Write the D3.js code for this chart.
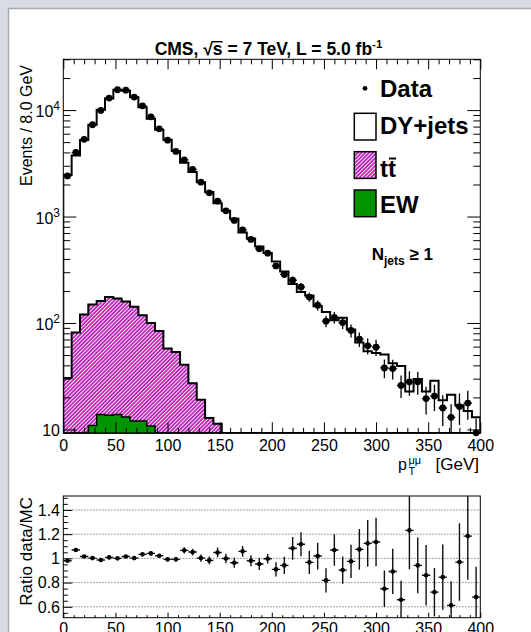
<!DOCTYPE html>
<html>
<head>
<meta charset="utf-8">
<script src="https://cdn.jsdelivr.net/npm/d3@7"></script>
<style>
  html, body { margin: 0; padding: 0; background: #fff; }
  svg { display: block; }
  text { font-family: "Liberation Sans", Arial, Helvetica, sans-serif; fill: #000; }
</style>
</head>
<body>
<svg id="chart" width="531" height="632"></svg>
<script>
// ---- binning: dimuon pT, 8 GeV bins from 0 to 400 GeV ----
const binWidth = 8;
const ptLow = d3.range(0, 400, binWidth);

// ---- simulated contributions (events / bin) ----
const dyJets = [2430, 3660, 5110, 7120, 9910, 12690, 15350, 15000, 13080, 10500,
                8210, 6450, 5200, 4070, 3160, 2600, 2080, 1690, 1320, 1133,
                953, 709, 622, 522, 454, 378, 304, 233, 195, 181,
                144, 127, 106, 112, 87, 65.6, 54.3, 52.2, 50.5, 41.8,
                39.4, 22.7, 29.7, 22.7, 28.6, 18.8, 21.2, 16.9, 14.9, 13.0];
const ttbar  = [30.5, 81.5, 120, 138, 147, 162, 156, 146, 130, 106,
                89, 84, 57.5, 53.5, 40.5, 27.2, 19, 12.8, 11.3, 0,
                0, 0, 0, 0, 0, 0, 0, 0, 0, 0,
                0, 0, 0, 0, 0, 0, 0, 0, 0, 0,
                0, 0, 0, 0, 0, 0, 0, 0, 0, 0];
const ewk    = [0, 0, 0, 10.9, 13.8, 13.6, 13.8, 13.1, 12.0, 12.0,
                10.8, 0, 0, 0, 0, 0, 0, 0, 0, 0,
                0, 0, 0, 0, 0, 0, 0, 0, 0, 0,
                0, 0, 0, 0, 0, 0, 0, 0, 0, 0,
                0, 0, 0, 0, 0, 0, 0, 0, 0, 0];

// ---- observed data ----
const dataCounts = [2410, 4000, 5310, 7280, 9930, 12970, 15520, 15400, 13250, 10970,
                    8650, 6670, 5220, 4090, 3410, 2770, 2105, 1670, 1397, 1132,
                    919, 750, 610, 497, 453, 344, 286, 252, 218, 175,
                    147, 104, 113, 101, 85, 70.5, 61, 59.3, 37.8, 37.3,
                    25.9, 28, 28, 19.5, 20.6, 15.9, 13, 16.4, 17.7, 9.3];
const dataErr    = [30, 45, 52, 73, 100, 129, 155, 152, 132, 106,
                    125, 98, 95, 82, 80, 74, 63, 54, 53, 45,
                    40, 32, 28, 26, 18, 22, 22, 22, 19, 17,
                    16, 13, 14, 13, 12, 11, 10.5, 10.4, 7.6, 7.8,
                    6.2, 7.3, 6.8, 5.7, 5.7, 5.1, 4.2, 5.4, 5.4, 3.4];

// ---- data / MC ratio ----
const ratioVals = [0.98, 1.069, 1.016, 1.002, 0.986, 1.008, 1.0, 1.016, 1.002, 1.033,
                   1.041, 1.022, 0.992, 0.992, 1.066, 1.052, 1.002, 0.983, 1.049, 0.999,
                   0.964, 1.058, 0.98, 0.953, 0.997, 0.909, 0.942, 1.083, 1.116, 0.967,
                   1.019, 0.818, 1.069, 0.903, 0.975, 1.074, 1.124, 1.135, 0.749, 0.892,
                   0.658, 1.231, 0.942, 0.86, 0.721, 0.845, 0.612, 0.969, 1.184, 0.68];
const ratioErr  = [0.012, 0.012, 0.01, 0.01, 0.01, 0.01, 0.01, 0.01, 0.01, 0.01,
                   0.015, 0.015, 0.018, 0.02, 0.025, 0.028, 0.03, 0.032, 0.04, 0.04,
                   0.042, 0.045, 0.045, 0.05, 0.04, 0.058, 0.072, 0.094, 0.099, 0.096,
                   0.11, 0.1, 0.13, 0.113, 0.138, 0.168, 0.193, 0.2, 0.15, 0.187,
                   0.157, 0.32, 0.23, 0.25, 0.2, 0.27, 0.2, 0.32, 0.36, 0.25];

// ---- tick values and labels ----
const xMajorTicks = [0, 50, 100, 150, 200, 250, 300, 350, 400];
const xMinorTicks = d3.range(0, 401, 10).filter(v => v % 50 !== 0);
const yDecadeTicks = [10, 100, 1000, 10000];
const yDecadeLabels = [["10", ""], ["10", "2"], ["10", "3"], ["10", "4"]];
const ratioTicks = [0.6, 0.8, 1.0, 1.2, 1.4];
const ratioTickLabels = ["0.6", "0.8", "1", "1.2", "1.4"];
const ratioMinorTicks = d3.range(11, 31).map(k => k * 0.05).filter(v => Math.round(v * 100) % 20 !== 0);
const legendLabels = ["Data", "DY+jets", "tt", "EW"];

// ---- colours ----
const ttColor = "#bb22bb";
const ewColor = "#009400";

// ---- geometry ----
const M = { left: 63.3, right: 480.3, top: 59.3, bottom: 433.3 };
const R = { top: 496, bottom: 617.7 };

const svg = d3.select("#chart");
const defs = svg.append("defs");

// window background
svg.append("rect").attr("x", 0).attr("y", 0).attr("width", 531).attr("height", 632).attr("fill", "#d8dde4");
svg.append("rect").attr("x", 8.5).attr("y", 8.5).attr("width", 540).attr("height", 640)
  .attr("fill", "#fff").attr("stroke", "#a2aab4").attr("stroke-width", 1.5);

// hatch pattern for ttbar
const hatch = defs.append("pattern").attr("id", "hatch").attr("patternUnits", "userSpaceOnUse")
  .attr("width", 2.7).attr("height", 2.7).attr("patternTransform", "rotate(45)");
hatch.append("rect").attr("width", 2.7).attr("height", 2.7).attr("fill", ttColor);
hatch.append("line").attr("x1", 0.5).attr("y1", 0).attr("x2", 0.5).attr("y2", 2.7)
  .attr("stroke", "#fff").attr("stroke-width", 0.9);

defs.append("clipPath").attr("id", "clipMain").append("rect")
  .attr("x", M.left).attr("y", M.top).attr("width", M.right - M.left).attr("height", M.bottom - M.top);
defs.append("clipPath").attr("id", "clipRatio").append("rect")
  .attr("x", M.left).attr("y", R.top).attr("width", M.right - M.left).attr("height", R.bottom - R.top);

// ---- scales ----
const x = d3.scaleLinear().domain([0, 400]).range([M.left, M.right]);
const y = d3.scaleLog().domain([9.2, 30000]).range([M.bottom, M.top]).clamp(true);
const yr = d3.scaleLinear().domain([0.51, 1.515]).range([R.bottom, R.top]);
const ys = v => y(Math.max(v, 1e-3));

// ---- stacked histograms ----
const rows = ptLow.map((lo, i) => ({ lo, ew: ewk[i], tt: ttbar[i], dy: dyJets[i] }));
const series = d3.stack().keys(["ew", "tt", "dy"])(rows);
const stepPoints = s => {
  const pts = s.map((d, i) => ({ x: ptLow[i], v: d[1] }));
  pts.push({ x: 400, v: s[s.length - 1][1] });
  return pts;
};
const area = d3.area().curve(d3.curveStepAfter)
  .x(d => x(d.x)).y0(M.bottom).y1(d => ys(d.v));

const gMain = svg.append("g").attr("clip-path", "url(#clipMain)");
gMain.append("path").attr("d", area(stepPoints(series[2])))
  .attr("fill", "#fff").attr("stroke", "#000").attr("stroke-width", 2);
gMain.append("path").attr("d", area(stepPoints(series[1])))
  .attr("fill", "url(#hatch)").attr("stroke", "#000").attr("stroke-width", 2);
gMain.append("path").attr("d", area(stepPoints(series[0])))
  .attr("fill", ewColor).attr("stroke", "#000").attr("stroke-width", 1.5);

// ---- data points ----
const pts = ptLow.map((lo, i) => ({ lo, v: dataCounts[i], e: dataErr[i] }));
const gData = gMain.append("g");
gData.selectAll("line.ev").data(pts).join("line").attr("class", "ev")
  .attr("x1", d => x(d.lo + binWidth / 2)).attr("x2", d => x(d.lo + binWidth / 2))
  .attr("y1", d => ys(d.v - d.e)).attr("y2", d => ys(d.v + d.e))
  .attr("stroke", "#000").attr("stroke-width", 1.3);
gData.selectAll("line.eh").data(pts).join("line").attr("class", "eh")
  .attr("x1", d => x(d.lo)).attr("x2", d => x(d.lo + binWidth))
  .attr("y1", d => ys(d.v)).attr("y2", d => ys(d.v))
  .attr("stroke", "#000").attr("stroke-width", 1.3);
svg.append("g").selectAll("circle").data(pts).join("circle")
  .attr("cx", d => x(d.lo + binWidth / 2)).attr("cy", d => ys(d.v)).attr("r", 3.4).attr("fill", "#000");

// ---- main axes (ticks inside the frame) ----
const styleAxis = g => {
  g.select(".domain").remove();
  g.selectAll(".tick line").attr("stroke", "#000").attr("stroke-width", 1);
  g.selectAll("text").attr("font-size", 16).attr("font-family", "Liberation Sans, Arial, sans-serif").attr("fill", "#000");
};
svg.append("g").attr("transform", `translate(0,${M.bottom})`)
  .call(d3.axisBottom(x).tickValues(xMajorTicks).tickSizeInner(-11).tickSizeOuter(0).tickPadding(6.3)).call(styleAxis);
svg.append("g").attr("transform", `translate(0,${M.bottom})`)
  .call(d3.axisBottom(x).tickValues(xMinorTicks).tickSize(-5.5).tickFormat("")).call(styleAxis);
svg.append("g").attr("transform", `translate(0,${M.top})`)
  .call(d3.axisTop(x).tickValues(xMajorTicks).tickSize(-10).tickFormat("")).call(styleAxis);
svg.append("g").attr("transform", `translate(0,${M.top})`)
  .call(d3.axisTop(x).tickValues(xMinorTicks).tickSize(-5).tickFormat("")).call(styleAxis);

const yMinorTicks = [];
[10, 100, 1000, 10000].forEach(dec => d3.range(2, 10).forEach(k => {
  const v = k * dec; if (v <= 30000) yMinorTicks.push(v);
}));
svg.append("g").attr("transform", `translate(${M.left},0)`)
  .call(d3.axisLeft(y).tickValues(yDecadeTicks).tickSize(-13).tickFormat("")).call(styleAxis);
svg.append("g").attr("transform", `translate(${M.left},0)`)
  .call(d3.axisLeft(y).tickValues(yMinorTicks).tickSize(-7).tickFormat("")).call(styleAxis);
svg.append("g").attr("transform", `translate(${M.right},0)`)
  .call(d3.axisRight(y).tickValues(yDecadeTicks).tickSize(-13).tickFormat("")).call(styleAxis);
svg.append("g").attr("transform", `translate(${M.right},0)`)
  .call(d3.axisRight(y).tickValues(yMinorTicks).tickSize(-7).tickFormat("")).call(styleAxis);

// decade labels with superscript exponents
yDecadeTicks.forEach((v, i) => {
  const t = svg.append("text").attr("x", 60).attr("y", y(v) + 7)
    .attr("text-anchor", "end").attr("font-size", 16).text(yDecadeLabels[i][0]);
  if (yDecadeLabels[i][1]) {
    t.append("tspan").attr("dy", -6.6).attr("font-size", 12).text(yDecadeLabels[i][1]);
  }
});

svg.append("rect").attr("x", M.left).attr("y", M.top)
  .attr("width", M.right - M.left).attr("height", M.bottom - M.top)
  .attr("fill", "none").attr("stroke", "#000").attr("stroke-width", 1);

// ---- ratio panel ----
const gRatio = svg.append("g").attr("clip-path", "url(#clipRatio)");
gRatio.selectAll("line.grid").data(ratioTicks).join("line").attr("class", "grid")
  .attr("x1", M.left).attr("x2", M.right).attr("y1", d => yr(d)).attr("y2", d => yr(d))
  .attr("stroke", "#555").attr("stroke-width", 0.9).attr("stroke-dasharray", "1.2,1.8");
const rpts = ptLow.map((lo, i) => ({ lo, v: ratioVals[i], e: ratioErr[i] }));
gRatio.selectAll("line.rv").data(rpts).join("line").attr("class", "rv")
  .attr("x1", d => x(d.lo + binWidth / 2)).attr("x2", d => x(d.lo + binWidth / 2))
  .attr("y1", d => yr(d.v - d.e)).attr("y2", d => yr(d.v + d.e))
  .attr("stroke", "#111").attr("stroke-width", 1.4);
gRatio.selectAll("line.rh").data(rpts).join("line").attr("class", "rh")
  .attr("x1", d => x(d.lo)).attr("x2", d => x(d.lo + binWidth))
  .attr("y1", d => yr(d.v)).attr("y2", d => yr(d.v))
  .attr("stroke", "#111").attr("stroke-width", 1.4);
gRatio.selectAll("circle").data(rpts).join("circle")
  .attr("cx", d => x(d.lo + binWidth / 2)).attr("cy", d => yr(d.v)).attr("r", 2.3).attr("fill", "#000");

svg.append("g").attr("transform", `translate(0,${R.bottom})`)
  .call(d3.axisBottom(x).tickValues(xMajorTicks).tickSizeInner(-5).tickSizeOuter(0).tickPadding(4.9)).call(styleAxis);
svg.append("g").attr("transform", `translate(0,${R.bottom})`)
  .call(d3.axisBottom(x).tickValues(xMinorTicks).tickSize(-2.5).tickFormat("")).call(styleAxis);
svg.append("g").attr("transform", `translate(${M.left},0)`)
  .call(d3.axisLeft(yr).tickValues(ratioTicks).tickSize(-9).tickFormat("")).call(styleAxis);
svg.append("g").attr("transform", `translate(${M.left},0)`)
  .call(d3.axisLeft(yr).tickValues(ratioMinorTicks).tickSize(-4.5).tickFormat("")).call(styleAxis);
ratioTicks.forEach((v, i) => {
  svg.append("text").attr("x", 60).attr("y", yr(v) + 5.7)
    .attr("text-anchor", "end").attr("font-size", 16).text(ratioTickLabels[i]);
});
svg.append("rect").attr("x", M.left).attr("y", R.top)
  .attr("width", M.right - M.left).attr("height", R.bottom - R.top)
  .attr("fill", "none").attr("stroke", "#000").attr("stroke-width", 1);

// ---- axis titles ----
svg.append("text").attr("transform", "translate(32,65) rotate(-90)")
  .attr("text-anchor", "end").attr("font-size", 16).text("Events / 8.0 GeV");
svg.append("text").attr("transform", `translate(32,${R.top + 1}) rotate(-90)`)
  .attr("text-anchor", "end").attr("font-size", 17).text("Ratio data/MC");

// pT with subscript T and superscript mu-mu stacked on the same column
svg.append("text").attr("x", 398).attr("y", 470).attr("font-size", 16).text("p");
svg.append("text").attr("x", 408.5).attr("y", 475).attr("font-size", 11).text("T");
svg.append("text").attr("x", 408.5).attr("y", 464).attr("font-size", 11).text("μμ");
svg.append("text").attr("x", 479).attr("y", 470).attr("text-anchor", "end").attr("font-size", 17).text("[GeV]");

// ---- title ----
const title = svg.append("text").attr("x", 268.5).attr("y", 55).attr("text-anchor", "middle")
  .attr("font-size", 17.5).attr("font-weight", "bold");
title.append("tspan").text("CMS, √s = 7 TeV, L = 5.0 fb");
title.append("tspan").attr("dy", -7).attr("font-size", 11.5).text("-1");
{
  const n = title.node();
  const x0 = n.getEndPositionOfChar(5).x - 0.8;
  const x1 = n.getEndPositionOfChar(6).x;
  svg.append("line").attr("x1", x0).attr("x2", x1).attr("y1", 55 - 13.3).attr("y2", 55 - 13.3)
    .attr("stroke", "#000").attr("stroke-width", 1.4);
}

// ---- legend ----
const legX = 354.3, legW = 21.7, legH = 26.7, textX = 380;
svg.append("circle").attr("cx", 365).attr("cy", 88.3).attr("r", 2.4).attr("fill", "#000");
svg.append("text").attr("x", textX).attr("y", 96.7).attr("font-size", 24).attr("font-weight", "bold").text(legendLabels[0]);

svg.append("rect").attr("x", legX).attr("y", 113.3).attr("width", legW).attr("height", legH)
  .attr("fill", "#fff").attr("stroke", "#000").attr("stroke-width", 1.5);
svg.append("text").attr("x", textX).attr("y", 133.5).attr("font-size", 24).attr("font-weight", "bold").text(legendLabels[1]);

svg.append("rect").attr("x", legX).attr("y", 151.7).attr("width", legW).attr("height", legH)
  .attr("fill", "url(#hatch)").attr("stroke", "#000").attr("stroke-width", 1.5);
const ttText = svg.append("text").attr("x", textX).attr("y", 177).attr("font-size", 24).attr("font-weight", "bold").text(legendLabels[2]);
{
  const n = ttText.node();
  const a = n.getStartPositionOfChar(1).x + 1, b = n.getEndPositionOfChar(1).x;
  svg.append("line").attr("x1", a).attr("x2", b).attr("y1", 177 - 18.5).attr("y2", 177 - 18.5)
    .attr("stroke", "#000").attr("stroke-width", 2);
}

svg.append("rect").attr("x", legX).attr("y", 190).attr("width", legW).attr("height", legH)
  .attr("fill", ewColor).attr("stroke", "#000").attr("stroke-width", 1.5);
svg.append("text").attr("x", textX).attr("y", 213).attr("font-size", 24).attr("font-weight", "bold").text(legendLabels[3]);

// jet multiplicity selection
const nj = svg.append("text").attr("x", 371.7).attr("y", 260).attr("font-size", 17).attr("font-weight", "bold");
nj.append("tspan").text("N");
nj.append("tspan").attr("dy", 5).attr("font-size", 12).text("jets");
nj.append("tspan").attr("dy", -5).attr("font-size", 17).text(" ≥ 1");
</script>
</body>
</html>
